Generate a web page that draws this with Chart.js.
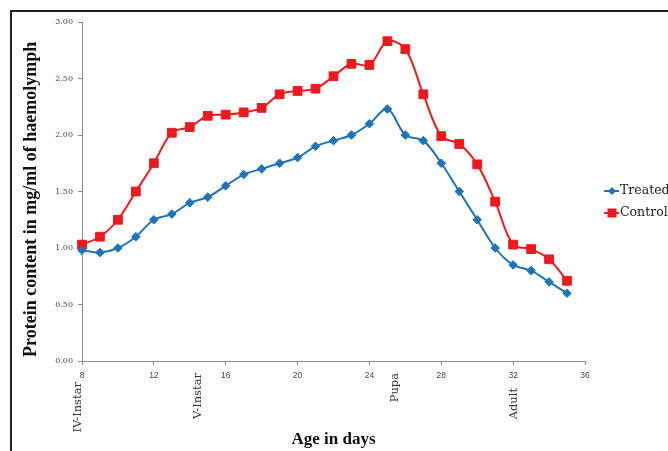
<!DOCTYPE html>
<html>
<head>
<meta charset="utf-8">
<script src="https://cdn.jsdelivr.net/npm/chart.js@4.4.1/dist/chart.umd.min.js"></script>
<style>
  html, body { margin: 0; padding: 0; background: #fff; }
  #wrap { width: 668px; height: 451px; position: relative; }
</style>
</head>
<body>
<div id="wrap"><canvas id="c" width="668" height="451"></canvas></div>
<script>
// ---- data ----
const days = [8, 9, 10, 11, 12, 13, 14, 15, 16, 17, 18, 19, 20, 21, 22, 23, 24, 25, 26, 27, 28, 29, 30, 31, 32, 33, 34, 35];
const treated = [0.98, 0.96, 1.00, 1.10, 1.25, 1.30, 1.40, 1.45, 1.55, 1.65, 1.70, 1.75, 1.80, 1.90, 1.95, 2.00, 2.10, 2.23, 2.00, 1.95, 1.75, 1.50, 1.25, 1.00, 0.85, 0.80, 0.70, 0.60];
const control = [1.03, 1.10, 1.25, 1.50, 1.75, 2.02, 2.07, 2.17, 2.18, 2.20, 2.24, 2.36, 2.39, 2.41, 2.52, 2.63, 2.62, 2.83, 2.76, 2.36, 1.99, 1.92, 1.74, 1.41, 1.03, 0.99, 0.90, 0.71];
const seriesNames = ['Treated', 'Control'];
const stageLabels = ['IV-Instar', 'V-Instar', 'Pupa', 'Adult'];
const stageDays = [7.8, 14.45, 25.4, 32.05];
const xTickRange = [8, 36, 4];
const yTickRange = [0, 3, 0.5];
const xTitle = 'Age in days';
const yTitle = 'Protein content in mg/ml of haemolymph';

const BLUE = '#1f74b8';
const RED = '#ea1a1f';

function toXY(vals) { return vals.map((v, i) => ({ x: days[i], y: v })); }

const framePlugin = {
  id: 'frame',
  beforeDraw(chart) {
    const ctx = chart.ctx;
    ctx.save();
    ctx.fillStyle = '#fff';
    ctx.fillRect(0, 0, chart.width, chart.height);
    ctx.restore();
  },
  afterDraw(chart) {
    const ctx = chart.ctx;
    const xs = chart.scales.x, ys = chart.scales.y;
    ctx.save();
    // frame
    ctx.strokeStyle = '#222';
    ctx.lineWidth = 2;
    ctx.beginPath();
    ctx.moveTo(11, chart.height);
    ctx.lineTo(11, 11);
    ctx.lineTo(chart.width, 11);
    ctx.stroke();

    // stage labels
    ctx.fillStyle = '#333';
    ctx.font = '11.5px "DejaVu Serif"';
    ctx.textAlign = 'right';
    ctx.textBaseline = 'middle';
    stageLabels.forEach((lab, i) => {
      const px = xs.getPixelForValue(stageDays[i]);
      const top = (lab === 'Adult') ? 388 : (lab === 'IV-Instar' ? 382 : 373);
      ctx.save();
      ctx.translate(px, top);
      ctx.rotate(-Math.PI / 2);
      ctx.fillText(lab, 0, 0);
      ctx.restore();
    });

    // y title
    ctx.save();
    ctx.fillStyle = '#111';
    ctx.font = 'bold 18px "Liberation Serif"';
    ctx.textAlign = 'center';
    ctx.textBaseline = 'middle';
    ctx.translate(31, ys.getPixelForValue(1.43));
    ctx.rotate(-Math.PI / 2);
    ctx.fillText(yTitle, 0, 0);
    ctx.restore();

    // legend
    const items = [
      { name: seriesNames[0], color: BLUE, style: 'diamond', y: 191 },
      { name: seriesNames[1], color: RED, style: 'square', y: 213 }
    ];
    ctx.font = '12.5px "DejaVu Serif"';
    ctx.textAlign = 'left';
    ctx.textBaseline = 'middle';
    items.forEach(it => {
      ctx.strokeStyle = it.color;
      ctx.lineWidth = 2;
      ctx.beginPath();
      ctx.moveTo(604, it.y);
      ctx.lineTo(619, it.y);
      ctx.stroke();
      ctx.fillStyle = it.color;
      ctx.beginPath();
      if (it.style === 'diamond') {
        ctx.moveTo(612 - 4, it.y);
        ctx.lineTo(612, it.y - 4);
        ctx.lineTo(612 + 4, it.y);
        ctx.lineTo(612, it.y + 4);
        ctx.closePath();
      } else {
        ctx.rect(612 - 4.5, it.y - 4.5, 9, 9);
      }
      ctx.fill();
      ctx.fillStyle = '#222';
      ctx.fillText(it.name, 620, it.y);
    });
    ctx.restore();
  }
};

new Chart(document.getElementById('c'), {
  type: 'line',
  data: {
    datasets: [
      {
        label: seriesNames[0],
        data: toXY(treated),
        borderColor: BLUE,
        backgroundColor: BLUE,
        borderWidth: 2,
        pointStyle: 'rectRot',
        pointRadius: 4.3,
        pointBorderWidth: 1,
        tension: 0.35,
        fill: false,
        clip: false
      },
      {
        label: seriesNames[1],
        data: toXY(control),
        borderColor: RED,
        backgroundColor: RED,
        borderWidth: 2,
        pointStyle: 'rect',
        pointRadius: 6.2,
        pointBorderWidth: 1,
        tension: 0.35,
        fill: false,
        clip: false
      }
    ]
  },
  options: {
    responsive: false,
    animation: false,
    devicePixelRatio: 1,
    layout: { padding: { left: 0, top: 22, right: 83, bottom: 0 } },
    plugins: {
      legend: { display: false },
      tooltip: { enabled: false }
    },
    scales: {
      x: {
        type: 'linear',
        min: xTickRange[0],
        max: xTickRange[1],
        afterFit(s) { s.height = 90; },
        ticks: {
          stepSize: xTickRange[2],
          padding: 6,
          color: '#444',
          font: { family: '"Liberation Sans"', size: 8.5 }
        },
        grid: { drawOnChartArea: false, tickLength: 4, color: '#8a8a8a' },
        border: { color: '#8a8a8a', width: 1 },
        title: {
          display: true,
          text: xTitle,
          color: '#111',
          font: { family: '"Liberation Serif"', size: 17, weight: 'bold' },
          padding: { top: 0, bottom: 1 }
        }
      },
      y: {
        min: yTickRange[0],
        max: yTickRange[1],
        afterFit(s) { s.width = 82; },
        ticks: {
          stepSize: yTickRange[2],
          padding: 5,
          color: '#444',
          font: { family: '"DejaVu Serif"', size: 8 },
          callback: v => Number(v).toFixed(2)
        },
        grid: { drawOnChartArea: false, tickLength: 4, color: '#8a8a8a' },
        border: { color: '#8a8a8a', width: 1 }
      }
    }
  },
  plugins: [framePlugin]
});
</script>
</body>
</html>
